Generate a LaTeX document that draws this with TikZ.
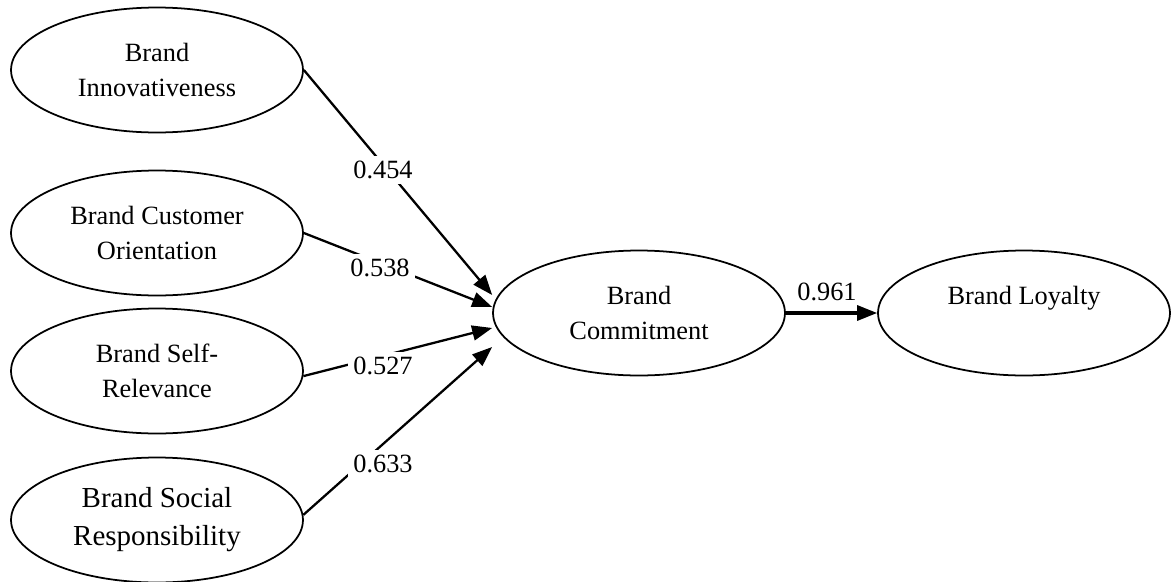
\documentclass[tikz,border=0pt]{standalone}
\usepackage{fontspec}
\setmainfont{Liberation Serif}
\usetikzlibrary{arrows.meta,shapes.geometric}

\begin{document}
\begin{tikzpicture}[x=0.02cm,y=-0.02cm,
    construct/.style={draw,ellipse,line width=1pt,minimum width=5.84cm,minimum height=2.5cm,
        inner sep=0pt,align=center,font=\fontsize{15}{19.9}\selectfont},
    link/.style={line width=1.3pt,-{Triangle[length=0.4cm,width=0.3cm]}},
    coef/.style={fill=white,inner sep=3pt,font=\fontsize{15}{18}\selectfont}]
    \useasboundingbox (0,0) rectangle (1171,582);
    \node[construct] (innov) at (157,70) {Brand\\Innovativeness};
    \node[construct] (custor) at (157,233) {Brand Customer\\Orientation};
    \node[construct] (selfrel) at (157,371) {Brand Self-\\Relevance};
    \node[construct,font=\fontsize{16.5}{21.6}\selectfont] (socresp) at (157,520) {Brand Social\\Responsibility};
    \node[construct] (commit) at (639,313) {Brand\\Commitment};
    \node[construct] (loyal) at (1024,313) {Brand Loyalty\\\mbox{}};
    \draw[link] (innov.east) -- ([yshift=0.36cm]commit.west);
    \draw[link] (custor.east) -- ([yshift=0.12cm]commit.west);
    \draw[link] (selfrel.-2.5) -- ([yshift=-0.3cm]commit.west);
    \draw[link] (socresp.2.8) -- ([yshift=-0.68cm]commit.west);
    \draw[link,line width=1.8pt] (commit.east) -- (loyal.west);
    \node[coef] (c1) at (383,170) {0.454};
    \node[coef] (c2) at (380,268) {0.538};
    \node[coef] (c3) at (383,366) {0.527};
    \node[coef] (c4) at (383,464) {0.633};
    \node[coef,fill=none] (c5) at (827,292) {0.961};
\end{tikzpicture}
\end{document}
